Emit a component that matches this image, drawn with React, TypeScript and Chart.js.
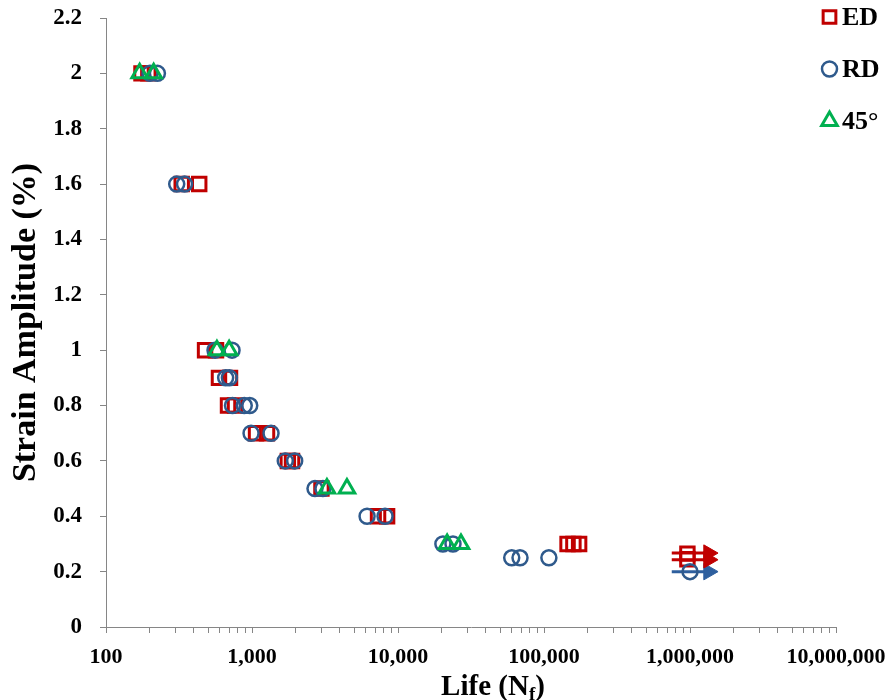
import React, { useEffect, useRef } from 'react';
import { Chart, registerables } from 'chart.js';

Chart.register(...registerables);

const FONT = '"Liberation Serif", "Times New Roman", serif';

// ED (squares)
const edLife = [175, 195, 330, 435, 477, 567, 594, 707, 685, 765, 1066, 1267, 1760, 1880, 2990, 7300, 8420, 145000, 159000, 174000, 960000, 960000];
const edStrain = [2, 2, 1.6, 1.6, 1, 1, 0.9, 0.9, 0.8, 0.8, 0.7, 0.7, 0.6, 0.6, 0.5, 0.4, 0.4, 0.3, 0.3, 0.3, 0.265, 0.245];

// RD (circles)
const rdLife = [200, 225, 305, 345, 558, 730, 660, 700, 735, 885, 965, 985, 1350, 1690, 1960, 2700, 3060, 6140, 8150, 20300, 23800, 60100, 68500, 108000, 1000000];
const rdStrain = [2, 2, 1.6, 1.6, 1, 1, 0.9, 0.9, 0.8, 0.8, 0.8, 0.7, 0.7, 0.6, 0.6, 0.5, 0.5, 0.4, 0.4, 0.3, 0.3, 0.25, 0.25, 0.25, 0.2];

// 45° (triangles)
const d45Life = [170, 212, 575, 697, 3260, 4470, 21700, 27000];
const d45Strain = [2, 2, 1, 1, 0.5, 0.5, 0.3, 0.3];

// Run-out arrows
const runoutStartLife = 750000;
const runoutEndLife = 1340000;
const edRunoutStrain = [0.267, 0.243];
const rdRunoutStrain = [0.2];

const legendLabels = ['ED', 'RD', '45°'];
const xTitle = ['Life (N', 'f', ')'];
const yTitle = 'Strain Amplitude (%)';
const xMin = 100;
const xMax = 10000000;
const yMin = 0;
const yMax = 2.2;
const yStep = 0.2;

const RED = '#C00000';
const BLUE = '#2F5A8C';
const BLUE_ARROW = '#2E5F9E';
const GREEN = '#00B050';
const AXIS = '#868686';

const pts = (xs: number[], ys: number[]) => xs.map((x, i) => ({ x, y: ys[i] }));

function drawMarker(ctx: CanvasRenderingContext2D, kind: string, x: number, y: number) {
  ctx.save();
  ctx.beginPath();
  if (kind === 'rect') {
    const s = 9 * Math.SQRT1_2;
    ctx.rect(x - s, y - s, 2 * s, 2 * s);
    ctx.strokeStyle = RED;
    ctx.lineWidth = 3;
  } else if (kind === 'circle') {
    ctx.arc(x, y, 7.5, 0, Math.PI * 2);
    ctx.strokeStyle = BLUE;
    ctx.lineWidth = 2.5;
  } else {
    const r = 9;
    ctx.moveTo(x, y - r);
    ctx.lineTo(x + r * Math.sin(Math.PI / 3), y + r / 2);
    ctx.lineTo(x - r * Math.sin(Math.PI / 3), y + r / 2);
    ctx.closePath();
    ctx.strokeStyle = GREEN;
    ctx.lineWidth = 3;
  }
  ctx.stroke();
  ctx.restore();
}

const overlayPlugin = {
  id: 'overlay',
  afterDraw(chart: any) {
    const ctx: CanvasRenderingContext2D = chart.ctx;
    const area = chart.chartArea;
    ctx.save();
    ctx.fillStyle = '#000';
    // x title with subscript
    const big = `bold 29px ${FONT}`;
    const small = `bold 19px ${FONT}`;
    ctx.font = big;
    const w1 = ctx.measureText(xTitle[0]).width;
    const w3 = ctx.measureText(xTitle[2]).width;
    ctx.font = small;
    const w2 = ctx.measureText(xTitle[1]).width;
    const total = w1 + w2 + w3;
    const cx = (area.left + area.right) / 2 + 22;
    let x = cx - total / 2;
    const base = 695;
    ctx.textBaseline = 'alphabetic';
    ctx.textAlign = 'left';
    ctx.font = big;
    ctx.fillText(xTitle[0], x, base);
    x += w1;
    ctx.font = small;
    ctx.fillText(xTitle[1], x, base + 5);
    x += w2;
    ctx.font = big;
    ctx.fillText(xTitle[2], x, base);

    // legend
    const kinds = ['rect', 'circle', 'triangle'];
    const rows = [17, 69, 121];
    legendLabels.forEach((lab, i) => {
      drawMarker(ctx, kinds[i], 829.5, rows[i]);
      ctx.font = `bold 26px ${FONT}`;
      ctx.fillStyle = '#000';
      ctx.textBaseline = 'middle';
      ctx.fillText(lab, 842, rows[i] + 1);
    });
    ctx.restore();
  },
};

function arrowDataset(strain: number, color: string) {
  return {
    type: 'line' as const,
    data: [
      { x: runoutStartLife, y: strain },
      { x: runoutEndLife, y: strain },
    ],
    showLine: true,
    borderColor: color,
    borderWidth: 3,
    backgroundColor: color,
    pointStyle: 'triangle',
    pointRotation: 90,
    pointRadius: [0, 9.5],
    pointBorderWidth: 1,
    pointBorderColor: color,
    pointBackgroundColor: color,
    order: 4,
  };
}

export default function App() {
  const ref = useRef<HTMLCanvasElement>(null);

  useEffect(() => {
    document.body.style.margin = '0';
    const canvas = ref.current!;
    const chart = new Chart(canvas, {
      type: 'scatter',
      data: {
        datasets: [
          ...edRunoutStrain.map((s) => arrowDataset(s, RED)),
          ...rdRunoutStrain.map((s) => arrowDataset(s, BLUE_ARROW)),
          {
            label: 'ED',
            data: pts(edLife, edStrain),
            pointStyle: 'rect',
            pointRadius: 9.5,
            pointBorderWidth: 3,
            borderColor: RED,
            pointBorderColor: RED,
            backgroundColor: 'rgba(0,0,0,0)',
            pointBackgroundColor: 'rgba(0,0,0,0)',
            order: 3,
          },
          {
            label: 'RD',
            data: pts(rdLife, rdStrain),
            pointStyle: 'circle',
            pointRadius: 7.5,
            pointBorderWidth: 2.5,
            borderColor: BLUE,
            pointBorderColor: BLUE,
            backgroundColor: 'rgba(0,0,0,0)',
            pointBackgroundColor: 'rgba(0,0,0,0)',
            order: 2,
          },
          {
            label: '45°',
            data: pts(d45Life, d45Strain),
            pointStyle: 'triangle',
            pointRadius: 9,
            pointBorderWidth: 3,
            borderColor: GREEN,
            pointBorderColor: GREEN,
            backgroundColor: 'rgba(0,0,0,0)',
            pointBackgroundColor: 'rgba(0,0,0,0)',
            order: 1,
          },
        ] as any,
      },
      options: {
        responsive: false,
        animation: false,
        events: [],
        layout: { padding: { top: 18, right: 54, bottom: 0, left: 0 } },
        plugins: {
          legend: { display: false },
          tooltip: { enabled: false },
        },
        scales: {
          x: {
            type: 'logarithmic',
            min: xMin,
            max: xMax,
            afterBuildTicks: (scale: any) => {
              const t: any[] = [];
              for (let p = xMin; p < xMax; p *= 10) {
                for (let m = 1; m < 10; m++) t.push({ value: p * m });
              }
              t.push({ value: xMax });
              scale.ticks = t;
            },
            afterFit: (scale: any) => {
              scale.height = 73;
              scale.paddingLeft = 0;
              scale.paddingRight = 0;
            },
            ticks: {
              autoSkip: false,
              maxRotation: 0,
              minRotation: 0,
              padding: 11,
              color: '#000',
              font: { family: FONT, size: 22, weight: 'bold' },
              callback: (v: any) => {
                const n = Number(v);
                const l = Math.log10(n);
                return Math.abs(l - Math.round(l)) < 1e-9 ? n.toLocaleString('en-US') : '';
              },
            },
            grid: {
              drawOnChartArea: false,
              drawTicks: true,
              tickLength: 6,
              color: AXIS,
            },
            border: { display: true, color: AXIS, width: 1 },
            title: { display: false },
          },
          y: {
            type: 'linear',
            min: yMin,
            max: yMax,
            afterFit: (scale: any) => {
              scale.width = 106;
              scale.paddingTop = 0;
              scale.paddingBottom = 0;
            },
            ticks: {
              stepSize: yStep,
              padding: 18,
              color: '#000',
              font: { family: FONT, size: 23, weight: 'bold' },
              callback: (v: any) => String(Number(Number(v).toFixed(1))),
            },
            grid: {
              drawOnChartArea: false,
              drawTicks: true,
              tickLength: 6,
              color: AXIS,
            },
            border: { display: true, color: AXIS, width: 1 },
            title: {
              display: true,
              text: yTitle,
              color: '#000',
              font: { family: FONT, size: 34, weight: 'bold' },
              padding: { top: 6, bottom: 0 },
            },
          },
        },
      },
      plugins: [overlayPlugin],
    });
    return () => chart.destroy();
  }, []);

  return (
    <div style={{ width: 890, height: 700, position: 'relative' }}>
      <canvas ref={ref} width={890} height={700} style={{ display: 'block' }} />
    </div>
  );
}
